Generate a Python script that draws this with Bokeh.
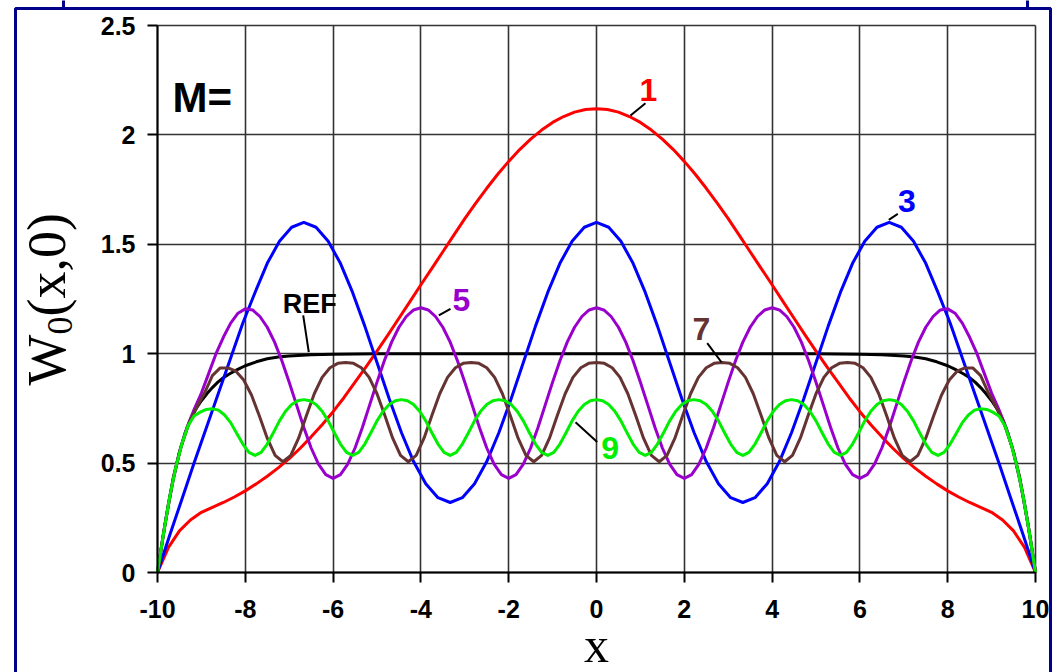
import math
from bokeh.plotting import figure
from bokeh.models import FixedTicker
from bokeh.core.properties import value
from bokeh.embed import file_html
from bokeh.resources import INLINE

# ---------------- data (right half, x >= 0; the chart is symmetric) ----------------
X_REF_R = [0, 1, 2, 3, 4, 5, 5.5, 6, 6.5, 7, 7.25, 7.5, 7.75, 8, 8.125, 8.25, 8.375, 8.5, 8.625, 8.75,
           8.875, 9, 9.125, 9.25, 9.375, 9.5, 9.625, 9.75, 9.875, 10]
W_REF_R = [1.0, 1.0, 1.0, 1.0, 1.0, 1.0, 0.999, 0.998, 0.995, 0.99, 0.985, 0.977, 0.963, 0.945, 0.933, 0.92,
           0.906, 0.89, 0.87, 0.845, 0.817, 0.785, 0.748, 0.70, 0.635, 0.55, 0.445, 0.315, 0.165, 0.0]

X_M1_R = [0, 0.25, 0.5, 0.75, 1, 1.25, 1.5, 1.75, 2, 2.25, 2.5, 2.75, 3, 3.25, 3.5, 3.75, 4, 4.25, 4.5, 4.75,
          5, 5.25, 5.5, 5.75, 6, 6.25, 6.5, 6.75, 7, 7.25, 7.5, 7.75, 8, 8.25, 8.5, 8.75, 9, 9.25, 9.5, 9.75, 10]
W_M1_R = [2.12, 2.116, 2.104, 2.084, 2.057, 2.022, 1.981, 1.933, 1.879, 1.820, 1.756, 1.688, 1.617, 1.542,
          1.466, 1.390, 1.315, 1.238, 1.162, 1.086, 1.012, 0.94, 0.87, 0.80, 0.735, 0.675, 0.62, 0.568, 0.52,
          0.478, 0.44, 0.405, 0.373, 0.345, 0.32, 0.298, 0.275, 0.24, 0.19, 0.115, 0.0]

X_M3_R = [0, 0.278, 0.556, 0.833, 1.111, 1.389, 1.667, 1.944, 2.222, 2.5, 2.778, 3.056, 3.333, 3.611, 3.889,
          4.167, 4.444, 4.722, 5.0, 5.278, 5.556, 5.833, 6.111, 6.389, 6.667, 6.944, 7.222, 7.5, 7.778, 8.056,
          8.333, 8.611, 8.889, 9.167, 9.444, 9.722, 10.0]
W_M3_R = [1.600, 1.578, 1.514, 1.413, 1.280, 1.126, 0.960, 0.794, 0.640, 0.507, 0.406, 0.342, 0.320, 0.342,
          0.406, 0.507, 0.640, 0.794, 0.960, 1.126, 1.280, 1.413, 1.514, 1.578, 1.600, 1.578, 1.514, 1.413,
          1.28, 1.14, 0.98, 0.82, 0.66, 0.50, 0.335, 0.17, 0.0]

X_M5_R = [0, 0.167, 0.333, 0.5, 0.667, 0.833, 1.0, 1.167, 1.333, 1.5, 1.667, 1.833, 2.0, 2.167, 2.333, 2.5,
          2.667, 2.833, 3.0, 3.167, 3.333, 3.5, 3.667, 3.833, 4.0, 4.167, 4.333, 4.5, 4.667, 4.833, 5.0, 5.167,
          5.333, 5.5, 5.667, 5.833, 6.0, 6.167, 6.333, 6.5, 6.667, 6.833, 7.0, 7.167, 7.333, 7.5, 7.667, 7.833,
          8.0, 8.167, 8.333, 8.5, 8.667, 8.833, 9.0, 9.167, 9.333, 9.5, 9.667, 9.833, 10.0]
W_M5_R = [1.210, 1.200, 1.170, 1.121, 1.053, 0.968, 0.870, 0.766, 0.663, 0.569, 0.495, 0.447, 0.430, 0.447,
          0.495, 0.569, 0.663, 0.766, 0.870, 0.968, 1.053, 1.121, 1.170, 1.200,
          1.210, 1.200, 1.170, 1.121, 1.053, 0.968, 0.870, 0.766, 0.663, 0.569, 0.495, 0.447, 0.430, 0.447,
          0.495, 0.569, 0.663, 0.766, 0.870, 0.968, 1.053, 1.121, 1.170, 1.200,
          1.205, 1.185, 1.14, 1.075, 1.0, 0.91, 0.82, 0.745, 0.66, 0.55, 0.40, 0.215, 0.0]

X_M7_R = [0, 0.179, 0.357, 0.536, 0.714, 0.893, 1.071, 1.25, 1.429, 1.607, 1.786, 1.964, 2.143, 2.321, 2.5,
          2.679, 2.857, 3.036, 3.214, 3.393, 3.571, 3.75, 3.929, 4.107, 4.286, 4.464, 4.643, 4.821, 5.0, 5.179,
          5.357, 5.536, 5.714, 5.893, 6.071, 6.25, 6.429, 6.607, 6.786, 6.964, 7.143, 7.321, 7.5, 7.679, 7.857,
          8.036, 8.214, 8.393, 8.571, 8.75, 8.929, 9.107, 9.286, 9.464, 9.643, 9.821, 10.0]
W_M7_R = [0.960, 0.956, 0.936, 0.892, 0.817, 0.718, 0.614, 0.535, 0.506, 0.535, 0.614, 0.718, 0.817, 0.892,
          0.936, 0.956,
          0.960, 0.956, 0.936, 0.892, 0.817, 0.718, 0.614, 0.535, 0.506, 0.535, 0.614, 0.718, 0.817, 0.892,
          0.936, 0.956,
          0.960, 0.956, 0.936, 0.892, 0.817, 0.718, 0.614, 0.535, 0.506, 0.535, 0.614, 0.715, 0.81, 0.88,
          0.92, 0.935, 0.935, 0.90, 0.82, 0.755, 0.68, 0.575, 0.43, 0.23, 0.0]

X_M9_R = [0, 0.139, 0.278, 0.417, 0.556, 0.694, 0.833, 0.972, 1.111, 1.25, 1.389, 1.528, 1.667, 1.806, 1.944,
          2.083, 2.222, 2.361, 2.5, 2.639, 2.778, 2.917, 3.056, 3.194, 3.333, 3.472, 3.611, 3.75, 3.889, 4.028,
          4.167, 4.306, 4.444, 4.583, 4.722, 4.861, 5.0, 5.139, 5.278, 5.417, 5.556, 5.694, 5.833, 5.972, 6.111,
          6.25, 6.389, 6.528, 6.667, 6.806, 6.944, 7.083, 7.222, 7.361, 7.5, 7.639, 7.778, 7.917, 8.056, 8.194,
          8.333, 8.472, 8.611, 8.75, 8.889, 9.028, 9.167, 9.306, 9.444, 9.583, 9.722, 9.861, 10.0]
W_M9_R = [0.790, 0.785, 0.768, 0.737, 0.693, 0.639, 0.587, 0.549, 0.535, 0.549, 0.587, 0.639, 0.693, 0.737,
          0.768, 0.785,
          0.790, 0.785, 0.768, 0.737, 0.693, 0.639, 0.587, 0.549, 0.535, 0.549, 0.587, 0.639, 0.693, 0.737,
          0.768, 0.785,
          0.790, 0.785, 0.768, 0.737, 0.693, 0.639, 0.587, 0.549, 0.535, 0.549, 0.587, 0.639, 0.693, 0.737,
          0.768, 0.785,
          0.790, 0.785, 0.768, 0.737, 0.693, 0.639, 0.587, 0.549, 0.535, 0.549, 0.587, 0.635, 0.685, 0.72,
          0.742, 0.748, 0.745, 0.733, 0.715, 0.67, 0.588, 0.48, 0.345, 0.18, 0.0]

X_TICKS = [-10, -8, -6, -4, -2, 0, 2, 4, 6, 8, 10]
X_TICK_LABELS = ["-10", "-8", "-6", "-4", "-2", "0", "2", "4", "6", "8", "10"]
Y_TICKS = [0, 0.5, 1, 1.5, 2, 2.5]
Y_TICK_LABELS = ["0", "0.5", "1", "1.5", "2", "2.5"]

# curve tags: text, x, y (glyph centre), color, size
CURVE_LABELS = [
    ("1", 1.185, 2.205, "#FF0000", "32px"),
    ("3", 7.073, 1.698, "#0000FF", "32px"),
    ("5", -3.075, 1.245, "#9900CC", "32px"),
    ("7", 2.387, 1.111, "#663333", "32px"),
    ("9", 0.312, 0.570, "#00EE00", "32px"),
    ("REF", -6.53, 1.228, "#000000", "27px"),
]
LEADER_X0 = [0.774, 6.658, -3.592, 2.522, -0.478, -6.681]
LEADER_Y0 = [2.089, 1.612, 1.175, 1.048, 0.687, 1.175]
LEADER_X1 = [1.116, 6.863, -3.326, 2.848, 0.016, -6.554]
LEADER_Y1 = [2.145, 1.639, 1.205, 0.961, 0.596, 1.007]


def mirror_x(h):
    return [-v for v in reversed(h[1:])] + list(h)


def mirror_y(h):
    return list(reversed(h[1:])) + list(h)


SERIES = [
    (X_REF_R, W_REF_R, "#000000"),
    (X_M1_R, W_M1_R, "#FF0000"),
    (X_M3_R, W_M3_R, "#0000FF"),
    (X_M5_R, W_M5_R, "#9900CC"),
    (X_M7_R, W_M7_R, "#663333"),
    (X_M9_R, W_M9_R, "#00EE00"),
]

# ---------------- figure: frame covers the whole canvas, axes fixed at x=-10 / y=0 ----------------
PX_PER_X = 43.9
PX_PER_Y = 218.8
x_start = -10 - 157 / PX_PER_X
x_end = 10 + 26 / PX_PER_X
y_start = -100 / PX_PER_Y
y_end = 2.5 + 25 / PX_PER_Y

p = figure(width=1061, height=672, x_range=(x_start, x_end), y_range=(y_start, y_end),
           output_backend="svg", toolbar_location=None,
           min_border=0, min_border_left=0, min_border_right=0, min_border_top=0, min_border_bottom=0)
p.background_fill_color = "white"
p.border_fill_color = "white"
p.outline_line_color = None

p.xaxis.fixed_location = 0
p.yaxis.fixed_location = -10
p.xaxis.bounds = (-10, 10)
p.yaxis.bounds = (0, 2.5)
p.xaxis.ticker = FixedTicker(ticks=X_TICKS)
p.yaxis.ticker = FixedTicker(ticks=Y_TICKS)
p.xaxis.major_label_overrides = {t: s for t, s in zip(X_TICKS, X_TICK_LABELS)}
p.yaxis.major_label_overrides = {t: s for t, s in zip(Y_TICKS, Y_TICK_LABELS)}
for ax in (p.xaxis, p.yaxis):
    ax.axis_line_color = "black"
    ax.axis_line_width = 2
    ax.major_tick_line_color = "black"
    ax.major_tick_line_width = 2
    ax.major_tick_out = 10
    ax.major_tick_in = 0
    ax.minor_tick_line_color = None
    ax.major_label_text_font = "Liberation Sans"
    ax.major_label_text_font_style = "bold"
    ax.major_label_text_font_size = "25px"
    ax.major_label_text_color = "black"
p.xaxis.major_label_standoff = 17
p.yaxis.major_label_standoff = 12

grid_ok = True
try:
    p.xgrid.ticker = FixedTicker(ticks=X_TICKS)
    p.ygrid.ticker = FixedTicker(ticks=Y_TICKS)
    p.xgrid.cross_bounds = (0, 2.5)
    p.ygrid.cross_bounds = (-10, 10)
    for g in (p.xgrid, p.ygrid):
        g.grid_line_color = "#333333"
        g.grid_line_width = 1.6
except AttributeError:
    grid_ok = False
if not grid_ok:
    p.xgrid.visible = False
    p.ygrid.visible = False
    p.segment(x0=X_TICKS, y0=[Y_TICKS[0]] * len(X_TICKS), x1=X_TICKS, y1=[Y_TICKS[-1]] * len(X_TICKS),
              line_color="#333333", line_width=1.6)
    p.segment(x0=[X_TICKS[0]] * len(Y_TICKS), y0=Y_TICKS, x1=[X_TICKS[-1]] * len(Y_TICKS), y1=Y_TICKS,
              line_color="#333333", line_width=1.6)

for xs_r, ys_r, col in SERIES:
    p.line(mirror_x(xs_r), mirror_y(ys_r), line_color=col, line_width=3, line_join="round")

p.segment(x0=LEADER_X0, y0=LEADER_Y0, x1=LEADER_X1, y1=LEADER_Y1, line_color="black", line_width=2)

for txt, lx, ly, col, size in CURVE_LABELS:
    p.text(x=[lx], y=[ly], text=[txt], text_color=col, text_font=value("Liberation Sans"),
           text_font_style="bold", text_font_size=value(size), text_align="center",
           text_baseline="middle")

p.text(x=[-9.658], y=[2.169], text=["M="], text_color="black", text_font=value("Liberation Sans"),
       text_font_style="bold", text_font_size=value("42px"), text_align="left", text_baseline="middle")

# axis titles (W with subscript 0, rotated) and x
p.text(x=[-12.528], y=[0.855], text=["W"], angle=math.pi / 2, text_font=value("Liberation Serif"),
       text_font_size=value("54px"), text_align="left", text_baseline="middle", text_color="black")
p.text(x=[-12.232], y=[1.088], text=["0"], angle=math.pi / 2, text_font=value("Liberation Serif"),
       text_font_size=value("36px"), text_align="left", text_baseline="middle", text_color="black")
p.text(x=[-12.528], y=[1.170], text=["(x,0)"], angle=math.pi / 2, text_font=value("Liberation Serif"),
       text_font_size=value("54px"), text_align="left", text_baseline="middle", text_color="black")
p.text(x=[0.0], y=[-0.3336], text=["x"], text_font=value("Liberation Serif"),
       text_font_size=value("50px"), text_align="center", text_baseline="middle", text_color="black")

# outer navy page frame (decoration)
p.multi_line(xs=[[-13.235, -13.235, 10.342, 10.342], [-12.141, -12.141], [9.818, 9.818]],
             ys=[[-0.7, 2.578, 2.578, -0.7], [2.578, 2.75], [2.578, 2.75]],
             line_color="#000088", line_width=3)

open("out.html", "w").write(file_html(p, INLINE))
